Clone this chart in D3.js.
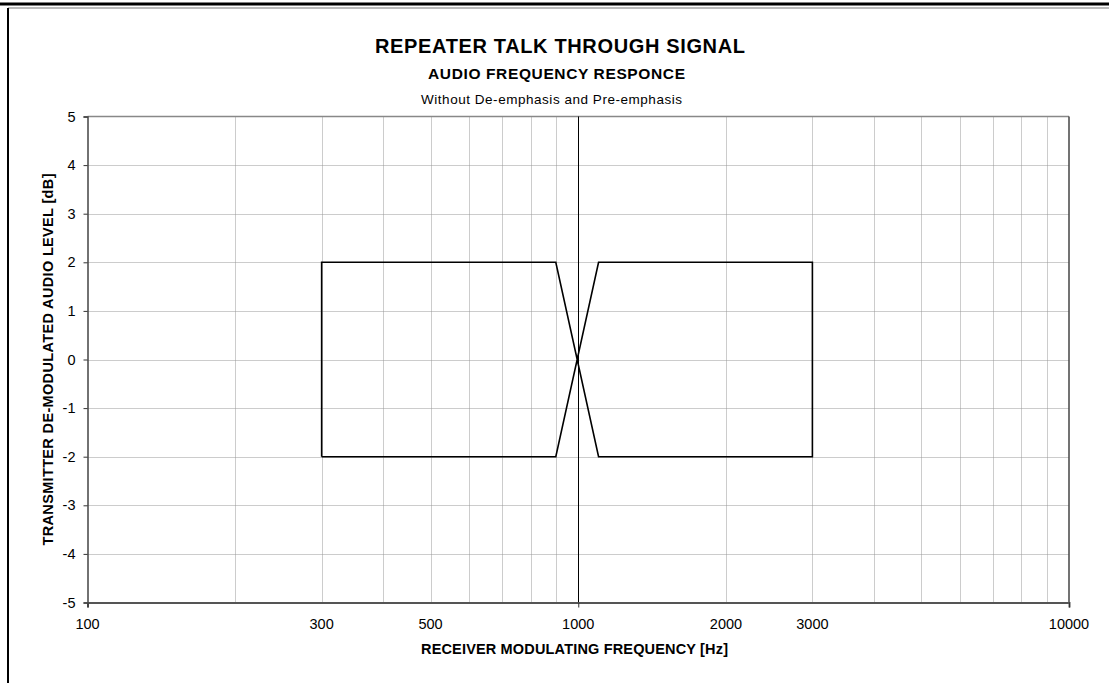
<!DOCTYPE html>
<html>
<head>
<meta charset="utf-8">
<script src="https://cdn.jsdelivr.net/npm/d3@7"></script>
<style>
  html, body { margin: 0; padding: 0; background: #fff; }
  svg { display: block; font-family: "Liberation Sans", Arial, sans-serif; }
</style>
</head>
<body>
<svg id="chart" width="1109" height="683"></svg>
<script>
// Tolerance mask corners: frequency [Hz] and level [dB]
const freqHz  = [300, 300, 900, 1100, 3000, 3000, 1100, 900, 300];
const levelDb = [-2, 2, 2, -2, -2, 2, 2, -2, -2];

// Axis ticks and labels
const yTicks = [-5, -4, -3, -2, -1, 0, 1, 2, 3, 4, 5];
const xLabelTicks = [100, 300, 500, 1000, 2000, 3000, 10000];
const xMajorTicks = [100, 1000, 10000];
const xGridTicks = [200, 300, 400, 500, 600, 700, 800, 900,
                    2000, 3000, 4000, 5000, 6000, 7000, 8000, 9000];
const refFreq = [1000];

const titleText = "REPEATER TALK THROUGH SIGNAL";
const subtitleText = "AUDIO FREQUENCY RESPONCE";
const noteText = "Without De-emphasis and Pre-emphasis";
const xTitle = "RECEIVER MODULATING FREQUENCY [Hz]";
const yTitle = "TRANSMITTER DE-MODULATED AUDIO LEVEL [dB]";

const svg = d3.select("#chart");
const W = 1109, H = 683;
const plot = { left: 87.5, right: 1069, top: 116.5, bottom: 602.5 };

const x = d3.scaleLog().domain([100, 10000]).range([plot.left, plot.right]);
const y = d3.scaleLinear().domain([-5, 5]).range([plot.bottom, plot.top]);

// Page frame
svg.append("line").attr("x1", 0).attr("x2", W).attr("y1", 4).attr("y2", 4)
  .attr("stroke", "#000").attr("stroke-width", 3);
svg.append("line").attr("x1", 8).attr("x2", W).attr("y1", 8).attr("y2", 8)
  .attr("stroke", "#777").attr("stroke-width", 1);
svg.append("line").attr("x1", 8).attr("x2", 8).attr("y1", 8).attr("y2", H)
  .attr("stroke", "#000").attr("stroke-width", 2);

// Gridlines
const grid = svg.append("g");
grid.selectAll(".hg").data(yTicks.filter(d => d > -5 && d < 5)).join("line")
  .attr("x1", plot.left).attr("x2", plot.right)
  .attr("y1", d => Math.round(y(d)) + 0.5).attr("y2", d => Math.round(y(d)) + 0.5)
  .attr("stroke", "#999").attr("stroke-width", 1).attr("stroke-dasharray", "1,1");
grid.selectAll(".vg").data(xGridTicks).join("line")
  .attr("x1", d => Math.round(x(d)) + 0.5).attr("x2", d => Math.round(x(d)) + 0.5)
  .attr("y1", plot.top).attr("y2", plot.bottom)
  .attr("stroke", "#999").attr("stroke-width", 1).attr("stroke-dasharray", "1,1");

// Plot area border
svg.append("line").attr("x1", plot.left).attr("x2", plot.right)
  .attr("y1", plot.top).attr("y2", plot.top).attr("stroke", "#888").attr("stroke-width", 1.5);
svg.append("line").attr("x1", plot.right).attr("x2", plot.right)
  .attr("y1", plot.top).attr("y2", plot.bottom).attr("stroke", "#444").attr("stroke-width", 1.5);

// Reference line at 1 kHz
svg.selectAll(".ref").data(refFreq).join("line")
  .attr("x1", d => Math.round(x(d)) + 0.5).attr("x2", d => Math.round(x(d)) + 0.5)
  .attr("y1", plot.top).attr("y2", plot.bottom)
  .attr("stroke", "#000").attr("stroke-width", 1);

// Axes
const yAxis = d3.axisLeft(y).tickValues(yTicks).tickSize(4).tickPadding(8)
  .tickFormat(d => String(d));
const gy = svg.append("g").attr("transform", `translate(${plot.left},0)`).call(yAxis);
gy.select(".domain").attr("stroke", "#444").attr("stroke-width", 1.5);
gy.selectAll(".tick line").attr("stroke", "#333");
gy.selectAll(".tick text").attr("font-size", 14.5).attr("fill", "#000")
  .attr("font-family", "Liberation Sans, Arial, sans-serif");

const xAxis = d3.axisBottom(x).tickValues(xMajorTicks).tickSize(5).tickFormat("");
const gx = svg.append("g").attr("transform", `translate(0,${plot.bottom})`).call(xAxis);
gx.select(".domain").attr("stroke", "#555").attr("stroke-width", 2);
gx.selectAll(".tick line").attr("stroke", "#333");

svg.append("g").selectAll("text").data(xLabelTicks).join("text")
  .attr("x", d => x(d)).attr("y", 629)
  .attr("text-anchor", "middle").attr("font-size", 14.5).attr("fill", "#000")
  .text(d => d);

// Tolerance mask
const line = d3.line().x(i => x(freqHz[i])).y(i => y(levelDb[i]));
svg.append("path").datum(d3.range(freqHz.length))
  .attr("d", line).attr("fill", "none")
  .attr("stroke", "#000").attr("stroke-width", 1.6).attr("stroke-linejoin", "miter");

// Titles
function label(txt, xs, ys, size, weight, len) {
  return svg.append("text").attr("x", xs).attr("y", ys)
    .attr("font-size", size).attr("font-weight", weight)
    .attr("textLength", len).attr("lengthAdjust", "spacing").text(txt);
}
label(titleText, 375, 53, 20, "bold", 370);
label(subtitleText, 428, 79, 15.5, "bold", 257);
label(noteText, 421, 104, 13.5, "normal", 261);
label(xTitle, 421, 654, 14.5, "bold", 307);
svg.append("text").attr("transform", `translate(53,${(plot.top + plot.bottom) / 2 + 186}) rotate(-90)`)
  .attr("font-size", 14.5).attr("font-weight", "bold")
  .attr("textLength", 372).attr("lengthAdjust", "spacing").text(yTitle);
</script>
</body>
</html>
